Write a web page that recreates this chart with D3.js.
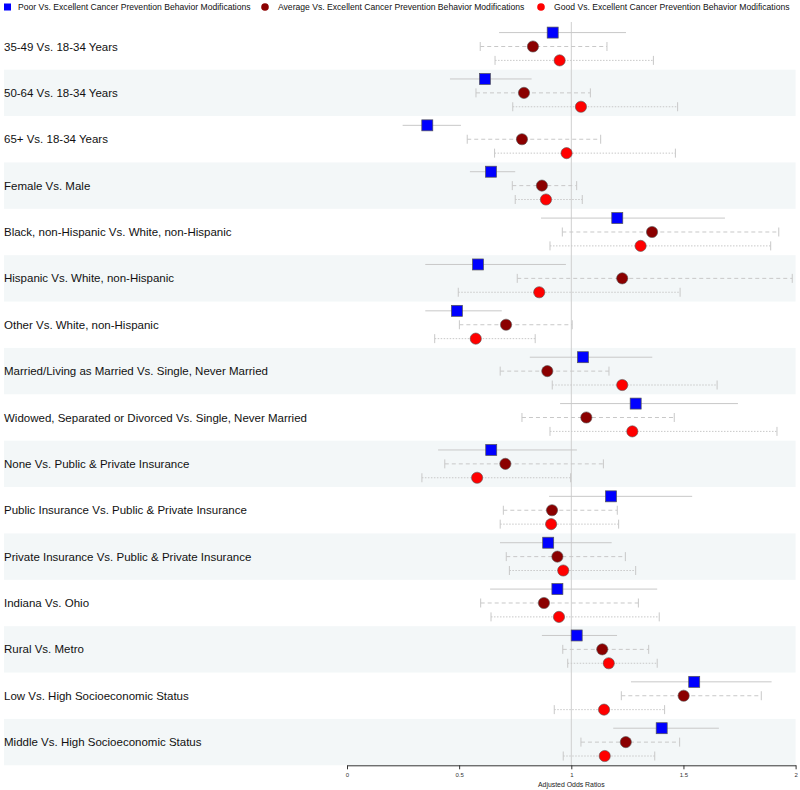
<!DOCTYPE html>
<html><head><meta charset="utf-8">
<script src="https://cdn.jsdelivr.net/npm/d3@7"></script>
<style>body{margin:0;background:#fff;font-family:"Liberation Sans",Arial,sans-serif;}</style>
</head><body>
<svg id="chart" width="800" height="790"></svg>
<script>
const categories = [
  "35-49 Vs. 18-34 Years",
  "50-64 Vs. 18-34 Years",
  "65+ Vs. 18-34 Years",
  "Female Vs. Male",
  "Black, non-Hispanic Vs. White, non-Hispanic",
  "Hispanic Vs. White, non-Hispanic",
  "Other Vs. White, non-Hispanic",
  "Married/Living as Married Vs. Single, Never Married",
  "Widowed, Separated or Divorced Vs. Single, Never Married",
  "None Vs. Public & Private Insurance",
  "Public Insurance Vs. Public & Private Insurance",
  "Private Insurance Vs. Public & Private Insurance",
  "Indiana Vs. Ohio",
  "Rural Vs. Metro",
  "Low Vs. High Socioeconomic Status",
  "Middle Vs. High Socioeconomic Status"
];
const seriesNames = [
  "Poor Vs. Excellent Cancer Prevention Behavior Modifications",
  "Average Vs. Excellent Cancer Prevention Behavior Modifications",
  "Good Vs. Excellent Cancer Prevention Behavior Modifications"
];
// Poor vs Excellent: odds ratio, lower CI, upper CI
const poorOR    = [0.917,0.615,0.358,0.642,1.205,0.584,0.490,1.052,1.287,0.643,1.177,0.897,0.938,1.024,1.548,1.403];
const poorLow   = [0.678,0.459,0.248,0.548,0.865,0.349,0.349,0.815,0.950,0.406,0.901,0.682,0.638,0.869,1.266,1.187];
const poorHigh  = [1.244,0.823,0.508,0.750,1.685,0.976,0.690,1.361,1.743,1.025,1.539,1.180,1.383,1.204,1.893,1.658];
// Average vs Excellent
const avgOR     = [0.829,0.789,0.780,0.869,1.360,1.227,0.709,0.893,1.067,0.706,0.914,0.938,0.878,1.138,1.501,1.243];
const avgLow    = [0.594,0.575,0.536,0.737,0.960,0.759,0.501,0.683,0.780,0.436,0.697,0.710,0.596,0.962,1.223,1.043];
const avgHigh   = [1.159,1.085,1.131,1.024,1.925,1.985,1.004,1.168,1.459,1.143,1.205,1.241,1.299,1.345,1.847,1.483];
// Good vs Excellent
const goodOR    = [0.948,1.043,0.979,0.887,1.309,0.857,0.574,1.227,1.272,0.580,0.910,0.964,0.945,1.167,1.146,1.149];
const goodLow   = [0.660,0.739,0.658,0.750,0.905,0.496,0.391,0.915,0.905,0.334,0.683,0.724,0.642,0.984,0.924,0.964];
const goodHigh  = [1.366,1.474,1.464,1.049,1.889,1.485,0.839,1.650,1.917,0.997,1.211,1.287,1.392,1.383,1.416,1.372];
const xTicks = [0, 0.5, 1, 1.5, 2];
const xTickLabels = ["0", "0.5", "1", "1.5", "2"];

(function () {
const svg = d3.select("#chart");
const font = '"Liberation Sans", Arial, sans-serif';
const plotLeft = 347, plotRight = 795.6, plotTop = 23.3, plotBottom = 765.3;

const x = d3.scaleLinear().domain([0, 2]).range([plotLeft, plotRight]);
const y = d3.scaleBand().domain(categories).range([plotTop, plotBottom]).padding(0);
const sub = d3.scalePoint().domain([0,1,2]).range([-13.9, 13.9]);

const series = [
  {name: seriesNames[0], or: poorOR, lo: poorLow, hi: poorHigh, shape: "square", fill: "#0000ff", dash: null, caps: false},
  {name: seriesNames[1], or: avgOR, lo: avgLow, hi: avgHigh, shape: "circle", fill: "#8b0000", dash: "4,3", caps: true},
  {name: seriesNames[2], or: goodOR, lo: goodLow, hi: goodHigh, shape: "circle", fill: "#ff0000", dash: "1.5,1.5", caps: true}
];

// shaded bands
svg.append("g").selectAll("rect").data(categories.filter((d,i) => i % 2 === 1)).join("rect")
  .attr("x", 4).attr("width", plotRight - 4)
  .attr("y", d => y(d)).attr("height", y.bandwidth())
  .attr("fill", "#f3f7f8");

// reference line at 1
svg.append("line").attr("x1", x(1)).attr("x2", x(1)).attr("y1", 22).attr("y2", plotBottom)
  .attr("stroke", "#cfcfcf").attr("stroke-width", 1);

// category labels
svg.append("g").selectAll("text").data(categories).join("text")
  .attr("x", 4).attr("y", d => y(d) + y.bandwidth()/2)
  .attr("dy", "0.35em")
  .attr("font-family", font).attr("font-size", "11.5px").attr("fill", "#111")
  .text(d => d);

// error bars and markers
series.forEach((s, si) => {
  const g = svg.append("g");
  const rows = categories.map((c, i) => ({c, or: s.or[i], lo: s.lo[i], hi: s.hi[i], cy: y(c) + y.bandwidth()/2 + sub(si)}));
  g.selectAll("line.ci").data(rows).join("line")
    .attr("x1", d => x(d.lo)).attr("x2", d => x(d.hi))
    .attr("y1", d => d.cy).attr("y2", d => d.cy)
    .attr("stroke", "#c8c8c8").attr("stroke-width", 1)
    .attr("stroke-dasharray", s.dash);
  if (s.caps) {
    ["lo","hi"].forEach(k => {
      g.append("g").selectAll("line").data(rows).join("line")
        .attr("x1", d => x(d[k])).attr("x2", d => x(d[k]))
        .attr("y1", d => d.cy - 4.5).attr("y2", d => d.cy + 4.5)
        .attr("stroke", "#c8c8c8").attr("stroke-width", 1);
    });
  }
  if (s.shape === "square") {
    g.append("g").selectAll("rect").data(rows).join("rect")
      .attr("x", d => x(d.or) - 5.5).attr("y", d => d.cy - 5.5)
      .attr("width", 11).attr("height", 11)
      .attr("fill", s.fill).attr("stroke", "#555").attr("stroke-width", 0.7);
  } else {
    g.append("g").selectAll("circle").data(rows).join("circle")
      .attr("cx", d => x(d.or)).attr("cy", d => d.cy).attr("r", 5.6)
      .attr("fill", s.fill).attr("stroke", "#555").attr("stroke-width", 0.6);
  }
});

// x axis
const axis = d3.axisBottom(x).tickValues(xTicks).tickFormat((d,i) => xTickLabels[i]).tickSize(4).tickSizeOuter(0);
const ag = svg.append("g").attr("transform", `translate(0,${plotBottom})`).call(axis);
ag.select(".domain").attr("stroke", "#333");
ag.selectAll(".tick line").attr("stroke", "#333");
ag.selectAll(".tick text").attr("font-family", font).attr("font-size", "6px").attr("fill", "#333").attr("y", 7);
svg.append("text").attr("x", x(1)).attr("y", 786.5).attr("text-anchor", "middle")
  .attr("font-family", font).attr("font-size", "6.9px").attr("fill", "#222")
  .text("Adjusted Odds Ratios");

// legend
const legendMarkX = [4, 265, 541];
const legendTextX = [18, 278, 554];
const lg = svg.append("g");
const texts = [];
series.forEach((s, i) => {
  const gx = legendMarkX[i];
  if (s.shape === "square") {
    lg.append("rect").attr("x", gx).attr("y", 3.5).attr("width", 7).attr("height", 7).attr("fill", s.fill);
  } else {
    lg.append("circle").attr("cx", gx).attr("cy", 7).attr("r", 3.8).attr("fill", s.fill);
  }
  texts.push(lg.append("text").attr("x", legendTextX[i]).attr("y", 7).attr("dy", "0.35em")
    .attr("font-family", font).attr("font-size", "9px").attr("fill", "#111")
    .text(s.name));
});
// fit legend font so the first entry spans the same width as in the reference
const w0 = texts[0].node().getComputedTextLength();
const fs = Math.min(9, 9 * 233 / w0);
texts.forEach(t => t.attr("font-size", fs + "px"));
})();
</script>
</body></html>
